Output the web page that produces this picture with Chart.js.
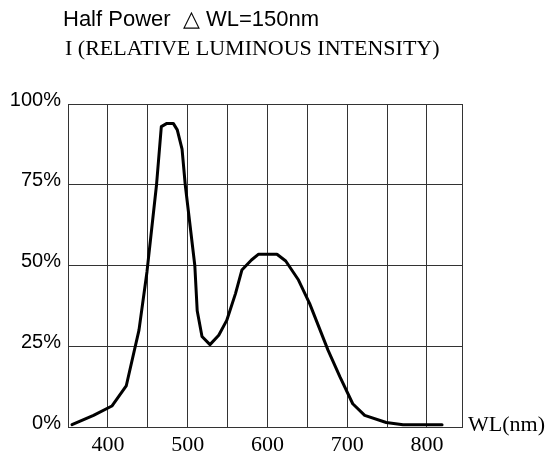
<!DOCTYPE html>
<html>
<head>
<meta charset="utf-8">
<script src="https://cdn.jsdelivr.net/npm/chart.js@4.4.1/dist/chart.umd.min.js"></script>
<style>
  html, body { margin: 0; padding: 0; background: #fff; }
  #wrap { width: 555px; height: 453px; }
</style>
</head>
<body>
<div id="wrap"><canvas id="spectrumChart" width="555" height="453"></canvas></div>
<script>
// wavelength (nm) and relative intensity (%)
const wavelengths = [355, 382, 405, 423, 439, 449, 461, 467, 474, 482, 487, 493, 497, 509, 512, 518, 528, 539, 549, 560, 568, 580, 589, 600, 612, 623, 639, 653, 676, 691, 707, 722, 749, 770, 819];
const intensity = [0.7, 3.6, 6.5, 12.7, 30, 48, 75, 93, 94, 94, 92, 86, 75, 50, 36, 28, 25.5, 28.4, 33, 41.3, 48.6, 51.7, 53.5, 53.5, 53.5, 51.4, 45.5, 38.2, 23.8, 15.5, 7.2, 3.6, 1.4, 0.7, 0.7];

const xTicks = [350, 400, 450, 500, 550, 600, 650, 700, 750, 800, 844];
const yTicks = [0, 25, 50, 75, 100];

const titleLine1 = 'Half Power  \u25B3 WL=150nm';
const titleLine2 = 'I (RELATIVE LUMINOUS INTENSITY)';
const xAxisName = 'WL(nm)';

const gridColor = '#333';

const textPlugin = {
  id: 'extraText',
  afterDraw(chart) {
    const c = chart.ctx;
    const area = chart.chartArea;
    c.save();
    c.fillStyle = '#000';
    c.textAlign = 'left';
    c.textBaseline = 'alphabetic';
    c.font = '22px "Liberation Sans", Arial, sans-serif';
    c.fillText(titleLine1, 63, 26);
    c.font = '22px "Liberation Serif", "Times New Roman", serif';
    c.fillText(titleLine2, 65, 55);
    c.fillText(xAxisName, area.right + 6, 431);
    c.restore();
  }
};

const ctx = document.getElementById('spectrumChart').getContext('2d');

const spectrumChart = new Chart(ctx, {
  type: 'line',
  data: {
    datasets: [{
      data: wavelengths.map((w, i) => ({ x: w, y: intensity[i] })),
      borderColor: '#000',
      borderWidth: 3,
      pointRadius: 0,
      tension: 0,
      borderJoinStyle: 'round',
      borderCapStyle: 'round',
      fill: false
    }]
  },
  options: {
    responsive: false,
    animation: false,
    layout: {
      padding: { left: 0, top: 104, right: 93, bottom: 0 }
    },
    plugins: {
      legend: { display: false },
      title: { display: false },
      tooltip: { enabled: false }
    },
    scales: {
      x: {
        type: 'linear',
        min: 350,
        max: 844,
        afterBuildTicks: (scale) => { scale.ticks = xTicks.map(v => ({ value: v })); },
        afterFit: (scale) => { scale.height = 26; },
        grid: { color: gridColor, lineWidth: 1, drawTicks: false },
        border: { color: gridColor, width: 1 },
        ticks: {
          autoSkip: false,
          maxRotation: 0,
          padding: 5,
          color: '#000',
          font: { family: '"Liberation Serif", "Times New Roman", serif', size: 22 },
          callback: (v) => (v % 100 === 0 ? String(v) : '')
        }
      },
      y: {
        min: 0,
        max: 100,
        afterBuildTicks: (scale) => { scale.ticks = yTicks.map(v => ({ value: v })); },
        afterFit: (scale) => { scale.width = 68; },
        grid: { color: gridColor, lineWidth: 1, drawTicks: false },
        border: { color: gridColor, width: 1 },
        ticks: {
          padding: 7,
          labelOffset: -4,
          color: '#000',
          font: { family: '"Liberation Sans", Arial, sans-serif', size: 20 },
          callback: (v) => v + '%'
        }
      }
    }
  },
  plugins: [textPlugin]
});
</script>
</body>
</html>
